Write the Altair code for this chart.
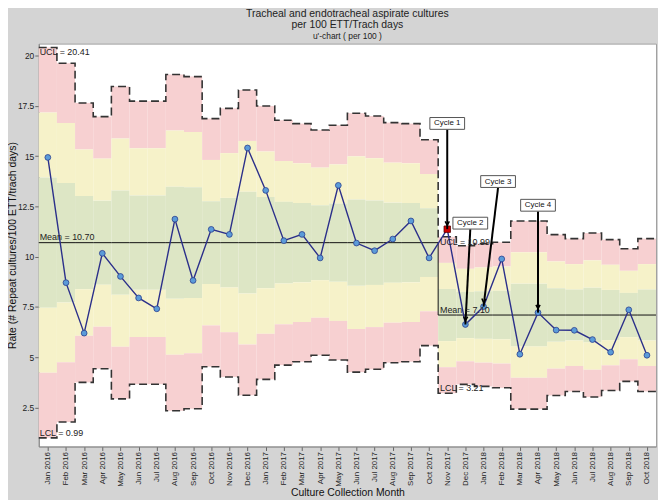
import altair as alt
import pandas as pd

months = ["Jan 2016", "Feb 2016", "Mar 2016", "Apr 2016", "May 2016", "Jun 2016",
          "Jul 2016", "Aug 2016", "Sep 2016", "Oct 2016", "Nov 2016", "Dec 2016",
          "Jan 2017", "Feb 2017", "Mar 2017", "Apr 2017", "May 2017", "Jun 2017",
          "Jul 2017", "Aug 2017", "Sep 2017", "Oct 2017", "Nov 2017", "Dec 2017",
          "Jan 2018", "Feb 2018", "Mar 2018", "Apr 2018", "May 2018", "Jun 2018",
          "Jul 2018", "Aug 2018", "Sep 2018", "Oct 2018"]

rate = [14.94, 8.71, 6.20, 10.17, 9.02, 7.95, 7.41, 11.87, 8.82, 11.36, 11.11, 15.41,
        13.30, 10.80, 11.11, 9.94, 13.55, 10.68, 10.30, 10.88, 11.78, 9.94,
        11.37, 6.63, 7.52, 9.89, 5.15, 7.22, 6.35, 6.34, 5.88, 5.25, 7.36, 5.10]

ucl = [20.41, 19.62, 17.65, 16.97, 18.47, 17.74, 17.74, 19.06, 18.96, 16.87, 17.38, 18.29,
       17.50, 16.79, 16.62, 16.30, 16.54, 17.14, 17.00, 16.67, 16.62, 15.82,
       10.99, 10.55, 10.65, 10.72, 11.78, 11.78, 11.10, 10.90, 11.18, 10.85, 10.40, 10.90]

center = [10.70] * 22 + [7.10] * 12

signal_months = ["Nov 2017"]

cycle_labels = ["Cycle 1", "Cycle 2", "Cycle 3", "Cycle 4"]
cycle_box_x = [22.0, 23.27, 24.8, 27.0]
cycle_box_y = [16.63, 11.67, 13.74, 12.56]
cycle_start_y = [16.33, 11.37, 13.44, 12.26]
cycle_target = ["Nov 2017", "Dec 2017", "Jan 2018", "Apr 2018"]
cycle_angle = [0, 3, 6, 0]

limit_labels = ["UCL = 20.41", "LCL = 0.99", "Mean = 10.70", "UCL = 10.99", "Mean = 7.10", "LCL = 3.21"]
limit_x = [-0.45, -0.45, -0.45, 21.6, 21.6, 21.6]
limit_y = [20.2, 1.23, 11.0, 10.73, 7.37, 3.47]

FONT = "Liberation Sans, Arial, sans-serif"
n = len(months)

# ---------- tables ----------
idx = list(range(n))
pts = pd.DataFrame({"x": idx, "month": months, "rate": rate})
pts["signal"] = pts["month"].isin(signal_months)

bands = []
band_cols = {"pink": "#f7d0d1", "yellow": "#f6f2c9", "green": "#dde6c5"}
for i in idx:
    m = center[i]
    s = (ucl[i] - m) / 3.0
    spec = [(2, 3, "pink"), (1, 2, "yellow"), (-1, 1, "green"), (-2, -1, "yellow"), (-3, -2, "pink")]
    for lo, hi, c in spec:
        bands.append({"xa": i - 0.5, "xb": i + 0.5, "lo": m + lo * s, "hi": m + hi * s, "band": c})
bands = pd.DataFrame(bands)

steps = []
for i in idx + [n]:
    j = min(i, n - 1)
    m = center[j]
    steps.append({"x": i - 0.5, "v": ucl[j], "kind": "UCL"})
    steps.append({"x": i - 0.5, "v": 2 * m - ucl[j], "kind": "LCL"})
    steps.append({"x": i - 0.5, "v": m, "kind": "Mean"})
steps = pd.DataFrame(steps)

ann = pd.DataFrame({"label": cycle_labels, "bx": cycle_box_x, "by": cycle_box_y,
                    "sy": cycle_start_y, "ang": cycle_angle})
ann["tx"] = [months.index(m) for m in cycle_target]
ann["ty"] = [rate[months.index(m)] for m in cycle_target]

lims = pd.DataFrame({"label": limit_labels, "x": limit_x, "y": limit_y})

# ---------- encodings ----------
label_arr = "[" + ",".join("'" + m + "'" for m in months) + "]"
xscale = alt.Scale(domain=[-0.5, n - 0.5], nice=False, zero=False)
yscale = alt.Scale(domain=[0.56, 20.6], nice=False, zero=False)
xaxis = alt.Axis(values=idx, labelExpr=label_arr + "[datum.value]", labelAngle=270,
                 labelFontSize=8, labelColor="#222", labelFont=FONT, tickSize=4,
                 tickColor="#666", domainColor="#888", grid=False, labelPadding=1,
                 title="Culture Collection Month", titleFontSize=10.5, titleFont=FONT,
                 titleFontWeight="normal", titleColor="#111", titlePadding=1)
yaxis = alt.Axis(values=[2.5, 5, 7.5, 10, 12.5, 15, 17.5, 20], labelExpr="'' + datum.value",
                 labelFontSize=8.5, labelColor="#222", labelFont=FONT, tickSize=4,
                 tickColor="#666", domainColor="#888", grid=False, labelPadding=1,
                 title="Rate (# Repeat cultures/100 ETT/trach days)", titleFontSize=10.5,
                 titleFont=FONT, titleFontWeight="normal", titleColor="#111", titlePadding=0)


def X(f):
    return alt.X(f + ":Q", scale=xscale, axis=xaxis, title="Culture Collection Month")


def Y(f):
    return alt.Y(f + ":Q", scale=yscale, axis=yaxis,
                 title="Rate (# Repeat cultures/100 ETT/trach days)")


band_layer = alt.Chart(bands).mark_rect(strokeWidth=0).encode(
    x=X("xa"), x2="xb", y=Y("lo"), y2="hi",
    color=alt.Color("band:N", scale=alt.Scale(domain=list(band_cols), range=list(band_cols.values())),
                    legend=None))

limit_lines = alt.Chart(steps[steps.kind != "Mean"]).mark_line(
    interpolate="step-after", color="#333", strokeWidth=1.6, strokeDash=[8, 4]).encode(
    x=X("x"), y=Y("v"), detail="kind:N")

mean_line = alt.Chart(steps[steps.kind == "Mean"]).mark_line(
    interpolate="step-after", color="#111", strokeWidth=1).encode(x=X("x"), y=Y("v"))

rate_line = alt.Chart(pts).mark_line(color="#2b2f8a", strokeWidth=1.4).encode(x=X("x"), y=Y("rate"))

rate_pts = alt.Chart(pts[~pts.signal]).mark_point(
    shape="circle", filled=True, size=34, fill="#5b9bd8", stroke="#2b3f8f", strokeWidth=0.8,
    opacity=1).encode(x=X("x"), y=Y("rate"))

sig_pts = alt.Chart(pts[pts.signal]).mark_point(
    shape="square", filled=True, size=42, fill="#d40000", stroke="#5a0000", strokeWidth=0.8,
    opacity=1).encode(x=X("x"), y=Y("rate"))

arrows = alt.Chart(ann).mark_rule(color="#000", strokeWidth=2).encode(
    x=X("bx"), y=Y("sy"), x2="tx", y2="ty")

heads = alt.Chart(ann).mark_point(
    shape="M-0.7,-1.3L0,0L0.7,-1.3", filled=False, size=36, stroke="#000", strokeWidth=1.5,
    opacity=1, yOffset=-4).encode(x=X("tx"), y=Y("ty"), angle=alt.Angle("ang:Q", scale=None))

boxes = alt.Chart(ann).mark_point(
    shape="M-1,-0.34H1V0.34H-1Z", filled=True, size=1225, fill="white", stroke="#555",
    strokeWidth=1, opacity=1).encode(x=X("bx"), y=Y("by"))

box_text = alt.Chart(ann).mark_text(font=FONT, fontSize=8, color="#111").encode(
    x=X("bx"), y=Y("by"), text="label:N")

lim_text = alt.Chart(lims).mark_text(font=FONT, fontSize=9, color="#222", align="left").encode(
    x=X("x"), y=Y("y"), text="label:N")

chart = alt.layer(band_layer, limit_lines, mean_line, rate_line, rate_pts, sig_pts,
                  arrows, boxes, heads, box_text, lim_text).properties(
    width=622, height=406,
    autosize=alt.AutoSizeParams(type="none"),
    padding={"left": 31, "top": 34, "right": 2, "bottom": 52},
    title=alt.TitleParams(
        text=["Tracheal and endotracheal aspirate cultures", "per 100 ETT/Trach days"],
        subtitle="u'-chart  ( per 100 )", font="Liberation Sans Narrow, Liberation Sans, Arial",
        fontSize=10.5, fontWeight="normal", color="#222", lineHeight=11,
        subtitleFont=FONT, subtitleFontSize=8.5, subtitleColor="#222", subtitlePadding=2,
        offset=3, anchor="middle")
).configure(background="#d4d4d4").configure_view(fill="white", stroke="#a0a0a0", strokeWidth=1)

chart.save("out.html", embed_options={"renderer": "svg", "actions": False})
